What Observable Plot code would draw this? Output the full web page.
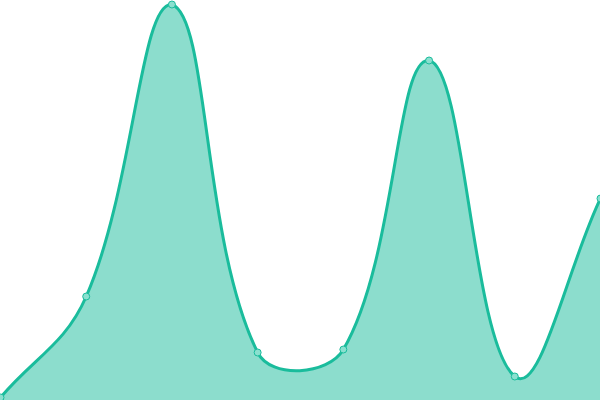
<!DOCTYPE html>
<html><head><meta charset="utf-8">
<script src="https://cdn.jsdelivr.net/npm/d3@7"></script>
<script src="https://cdn.jsdelivr.net/npm/@observablehq/plot@0.6"></script>
<style>html,body{margin:0;padding:0;background:#fff;overflow:hidden}</style>
</head><body><div id="chart"></div>
<script>
const xs = [0, 1, 2, 3, 4, 5, 6, 7];
const values = [3, 104, 396, 48, 51, 340, 24, 202];
const data = xs.map((x, i) => ({x, y: values[i]}));

// Distance-weighted spline (tension 0.4), control points capped to the plot area
const W = 600, H = 400, TENSION = 0.4;
function SplineCurve(context) { this._context = context; }
SplineCurve.prototype = {
  areaStart() { this._line = 0; },
  areaEnd() { this._line = NaN; },
  lineStart() { this._pts = []; },
  point(x, y) { this._pts.push([+x, +y]); },
  lineEnd() {
    const p = this._pts, n = p.length, c = this._context;
    if (n) {
      if (this._line) c.lineTo(p[0][0], p[0][1]); else c.moveTo(p[0][0], p[0][1]);
      if (n > 1) {
        const cps = p.map((cur, i) => {
          const prev = p[i - 1] || cur, next = p[i + 1] || cur;
          const d01 = Math.hypot(cur[0] - prev[0], cur[1] - prev[1]);
          const d12 = Math.hypot(next[0] - cur[0], next[1] - cur[1]);
          let s01 = d01 / (d01 + d12), s12 = d12 / (d01 + d12);
          if (isNaN(s01)) s01 = 0; if (isNaN(s12)) s12 = 0;
          const fa = TENSION * s01, fb = TENSION * s12;
          const cl = (v, lo, hi) => Math.max(lo, Math.min(hi, v));
          return {
            prev: [cl(cur[0] - fa * (next[0] - prev[0]), 0, W), cl(cur[1] - fa * (next[1] - prev[1]), 0, H)],
            next: [cl(cur[0] + fb * (next[0] - prev[0]), 0, W), cl(cur[1] + fb * (next[1] - prev[1]), 0, H)]
          };
        });
        for (let i = 1; i < n; ++i) {
          const a = cps[i - 1].next, b = cps[i].prev;
          c.bezierCurveTo(a[0], a[1], b[0], b[1], p[i][0], p[i][1]);
        }
      }
    }
    if (this._line || (this._line !== 0 && n === 1)) c.closePath();
    this._line = 1 - this._line;
  }
};
const spline = (context) => new SplineCurve(context);

const chart = Plot.plot({
  width: W, height: H,
  margin: 0,
  x: {domain: [0, 7], axis: null},
  y: {domain: [0, 400], axis: null},
  marks: [
    Plot.areaY(data, {x: "x", y: "y", curve: spline, fill: "#1abc9c", fillOpacity: 0.5}),
    Plot.lineY(data, {x: "x", y: "y", curve: spline, stroke: "#1abc9c", strokeWidth: 3}),
    Plot.dot(data, {x: "x", y: "y", r: 3.5, fill: "#8ae0cf", stroke: "#1abc9c", strokeWidth: 1})
  ]
});
document.getElementById("chart").append(chart);
</script></body></html>
